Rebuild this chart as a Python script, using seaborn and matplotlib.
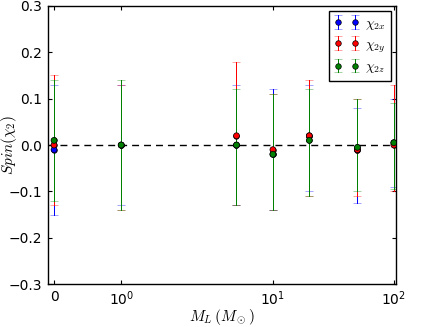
import numpy as np
import pandas as pd
import matplotlib
matplotlib.use('Agg')
import matplotlib.pyplot as plt
import seaborn as sns
from matplotlib.ticker import FixedLocator, NullLocator, FuncFormatter, MultipleLocator

# lens mass (M_sun) and recovered spin components with their lower / upper bounds
masses = [0, 1, 5, 10, 20, 50, 100]

spin_x = [-0.01, 0.0, 0.0, -0.02, 0.02, -0.01, 0.005]
spin_x_lo = [-0.15, -0.13, -0.13, -0.14, -0.10, -0.125, -0.09]
spin_x_hi = [0.13, 0.13, 0.13, 0.12, 0.13, 0.08, 0.10]

spin_y = [0.0, 0.0, 0.02, -0.01, 0.02, -0.01, 0.0]
spin_y_lo = [-0.13, -0.14, -0.13, -0.14, -0.11, -0.11, -0.10]
spin_y_hi = [0.15, 0.13, 0.18, 0.11, 0.14, 0.10, 0.13]

spin_z = [0.01, 0.0, 0.0, -0.02, 0.01, -0.005, 0.005]
spin_z_lo = [-0.12, -0.14, -0.13, -0.14, -0.11, -0.10, -0.095]
spin_z_hi = [0.14, 0.14, 0.12, 0.11, 0.12, 0.10, 0.09]

labels = [r'$\chi_{2x}$', r'$\chi_{2y}$', r'$\chi_{2z}$']
colors = ['b', 'r', 'g']

sns.set_style('ticks', {
    'axes.edgecolor': 'black',
    'text.color': 'black',
    'axes.labelcolor': 'black',
    'xtick.color': 'black',
    'ytick.color': 'black',
    'xtick.direction': 'in',
    'ytick.direction': 'in',
})
plt.rcParams['font.family'] = ['DejaVu Sans']
plt.rcParams['mathtext.fontset'] = 'cm'

fig, ax = plt.subplots(figsize=(4.36, 3.27), dpi=100)
fig.subplots_adjust(left=0.110, right=0.908, top=0.982, bottom=0.131)

series = [
    (spin_x, spin_x_lo, spin_x_hi),
    (spin_y, spin_y_lo, spin_y_hi),
    (spin_z, spin_z_lo, spin_z_hi),
]

rows = []
for (vals, lo, hi), c, lab in zip(series, colors, labels):
    vals = np.array(vals)
    yerr = [vals - np.array(lo), np.array(hi) - vals]
    eb = ax.errorbar(masses, vals, yerr=yerr, fmt='o', color=c, ms=4, mec='k', mew=0.5,
                     ecolor=c, elinewidth=0.65, capsize=3, capthick=1, label=lab)
    for cap in eb[1]:
        cap.set_alpha(0.5)
    # crisp 1 px bars so the last series sits cleanly on top
    for lc in eb[2]:
        lc.set_antialiased(False)
    for m, v in zip(masses, vals):
        rows.append({'mass': m, 'spin': v, 'component': lab})

df = pd.DataFrame(rows)
sns.scatterplot(data=df, x='mass', y='spin', hue='component', palette=dict(zip(labels, colors)),
                s=18, edgecolor='k', linewidth=0.5, zorder=5, legend=False, ax=ax)

ax.axhline(0, color='k', lw=1, ls=(0, (5, 3.6)), zorder=1)

ax.set_xscale('symlog', linthresh=2, linscale=1)
ax.set_xlim(-0.09, 104)
ax.set_ylim(-0.3, 0.3)
ax.xaxis.set_major_locator(FixedLocator([0, 1, 10, 100]))
ax.xaxis.set_minor_locator(NullLocator())
ax.xaxis.set_major_formatter(FuncFormatter(
    lambda v, p: '0' if v == 0 else r'$\mathdefault{10^{%d}}$' % round(np.log10(v))))
ax.yaxis.set_major_locator(MultipleLocator(0.1))
ax.yaxis.set_major_formatter(FuncFormatter(
    lambda v, p: ('%.1f' % (0.0 if abs(v) < 1e-9 else v)).replace('-', '\u2212')))
ax.tick_params(which='both', top=True, right=True, direction='in', length=3, width=0.8,
               labelsize=10, pad=4)
for s in ax.spines.values():
    s.set_linewidth(1)
    s.set_color('black')

ax.set_xlabel(r'$M_L\,(M_\odot)$', fontsize=11)
ax.set_ylabel(r'$Spin(\chi_2)$', fontsize=11)
ax.xaxis.set_label_coords(0.5, -0.082)
ax.yaxis.set_label_coords(-0.082, 0.5)

leg = ax.legend(loc='upper right', numpoints=2, fontsize=10, fancybox=False, framealpha=1,
                edgecolor='k', handlelength=1.8, handletextpad=0.4, labelspacing=0.35,
                borderaxespad=0.35)
leg.get_frame().set_linewidth(1)

fig.savefig('out.png', dpi=100)
